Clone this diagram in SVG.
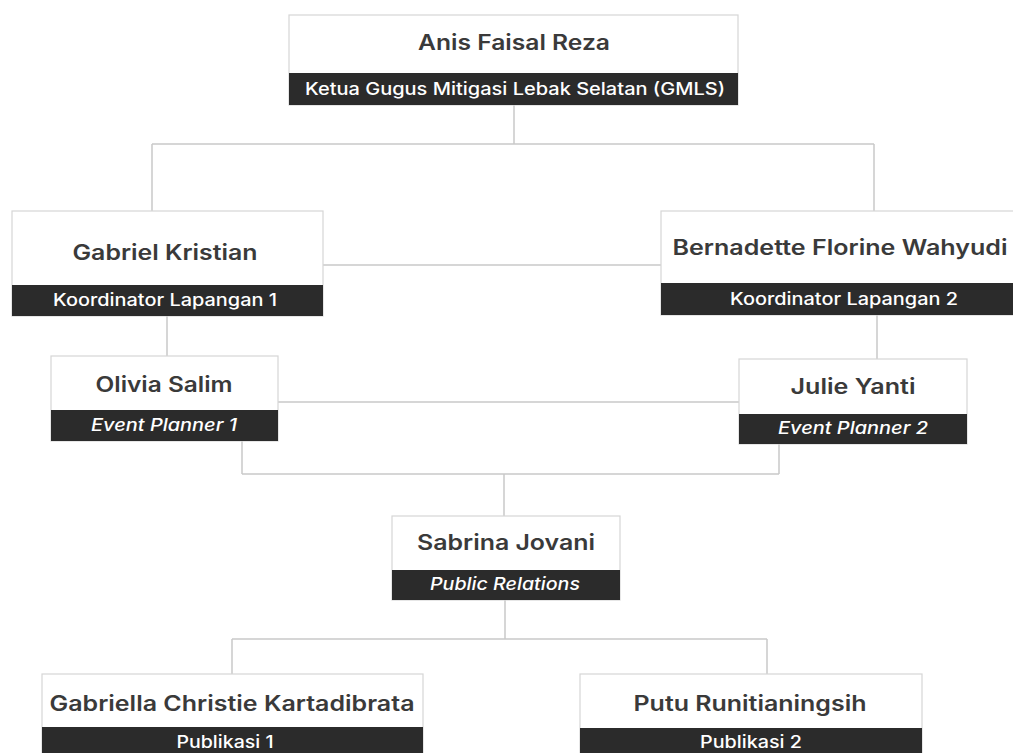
<svg xmlns="http://www.w3.org/2000/svg" width="1013" height="753" viewBox="0 0 1013 753">
  <style>
    .box { fill: #ffffff; stroke: #d6d6d6; stroke-width: 1.2; }
    .band { fill: #2b2b2b; }
    .name { font-family: Inter, "Liberation Sans", sans-serif; font-weight: 600; font-size: 21px; fill: #3a3a3a; text-anchor: middle; }
    .role { font-family: Inter, "Liberation Sans", sans-serif; font-weight: 500; font-size: 17px; fill: #ffffff; text-anchor: middle; }
    .it { font-style: italic; }
    .conn { stroke: #c9c9c9; stroke-width: 1.5; fill: none; }
  </style>
  <rect width="1013" height="753" fill="#ffffff"/>
  <g id="connectors">
    <path class="conn" d="M514 105 V144 M152 144 H874 M152 144 V211 M874 144 V211"/>
    <path class="conn" d="M323 265 H661"/>
    <path class="conn" d="M167 316 V356"/>
    <path class="conn" d="M877 315 V359"/>
    <path class="conn" d="M278 402 H739"/>
    <path class="conn" d="M242 441 V474 M779 444 V474 M242 474 H779 M504 474 V516"/>
    <path class="conn" d="M505 600 V639 M232 639 H767 M232 639 V674 M767 639 V674"/>
  </g>
  <g id="node-anis">
    <rect class="box" x="289" y="15" width="449" height="90"/>
    <rect class="band" x="289" y="73" width="449" height="32"/>
    <text class="name" x="514" y="50" textLength="192" lengthAdjust="spacingAndGlyphs">Anis Faisal Reza</text>
    <text class="role" x="515" y="95" textLength="420" lengthAdjust="spacingAndGlyphs">Ketua Gugus Mitigasi Lebak Selatan (GMLS)</text>
  </g>
  <g id="node-gabriel">
    <rect class="box" x="12" y="211" width="311" height="105"/>
    <rect class="band" x="12" y="285" width="311" height="31"/>
    <text class="name" x="165" y="260" textLength="185" lengthAdjust="spacingAndGlyphs">Gabriel Kristian</text>
    <text class="role" x="165" y="306" textLength="224" lengthAdjust="spacingAndGlyphs">Koordinator Lapangan 1</text>
  </g>
  <g id="node-bernadette">
    <rect class="box" x="661" y="211" width="360" height="104"/>
    <rect class="band" x="661" y="283" width="360" height="32"/>
    <text class="name" x="840" y="255" textLength="335" lengthAdjust="spacingAndGlyphs">Bernadette Florine Wahyudi</text>
    <text class="role" x="844" y="305" textLength="228" lengthAdjust="spacingAndGlyphs">Koordinator Lapangan 2</text>
  </g>
  <g id="node-olivia">
    <rect class="box" x="51" y="356" width="227" height="85"/>
    <rect class="band" x="51" y="410" width="227" height="31"/>
    <text class="name" x="164" y="392" textLength="137" lengthAdjust="spacingAndGlyphs">Olivia Salim</text>
    <text class="role it" x="164" y="431" textLength="146" lengthAdjust="spacingAndGlyphs">Event Planner 1</text>
  </g>
  <g id="node-julie">
    <rect class="box" x="739" y="359" width="228" height="85"/>
    <rect class="band" x="739" y="414" width="228" height="30"/>
    <text class="name" x="853" y="394" textLength="125" lengthAdjust="spacingAndGlyphs">Julie Yanti</text>
    <text class="role it" x="853" y="434" textLength="150" lengthAdjust="spacingAndGlyphs">Event Planner 2</text>
  </g>
  <g id="node-sabrina">
    <rect class="box" x="392" y="516" width="228" height="84"/>
    <rect class="band" x="392" y="570" width="228" height="30"/>
    <text class="name" x="506" y="550" textLength="178" lengthAdjust="spacingAndGlyphs">Sabrina Jovani</text>
    <text class="role it" x="505" y="590" textLength="150" lengthAdjust="spacingAndGlyphs">Public Relations</text>
  </g>
  <g id="node-gabriella">
    <rect class="box" x="42" y="674" width="381" height="90"/>
    <rect class="band" x="42" y="727" width="381" height="37"/>
    <text class="name" x="232" y="711" textLength="365" lengthAdjust="spacingAndGlyphs">Gabriella Christie Kartadibrata</text>
    <text class="role" x="225" y="748" textLength="97" lengthAdjust="spacingAndGlyphs">Publikasi 1</text>
  </g>
  <g id="node-putu">
    <rect class="box" x="580" y="674" width="342" height="90"/>
    <rect class="band" x="580" y="728" width="342" height="36"/>
    <text class="name" x="750" y="711" textLength="233" lengthAdjust="spacingAndGlyphs">Putu Runitianingsih</text>
    <text class="role" x="751" y="748" textLength="102" lengthAdjust="spacingAndGlyphs">Publikasi 2</text>
  </g>
</svg>
